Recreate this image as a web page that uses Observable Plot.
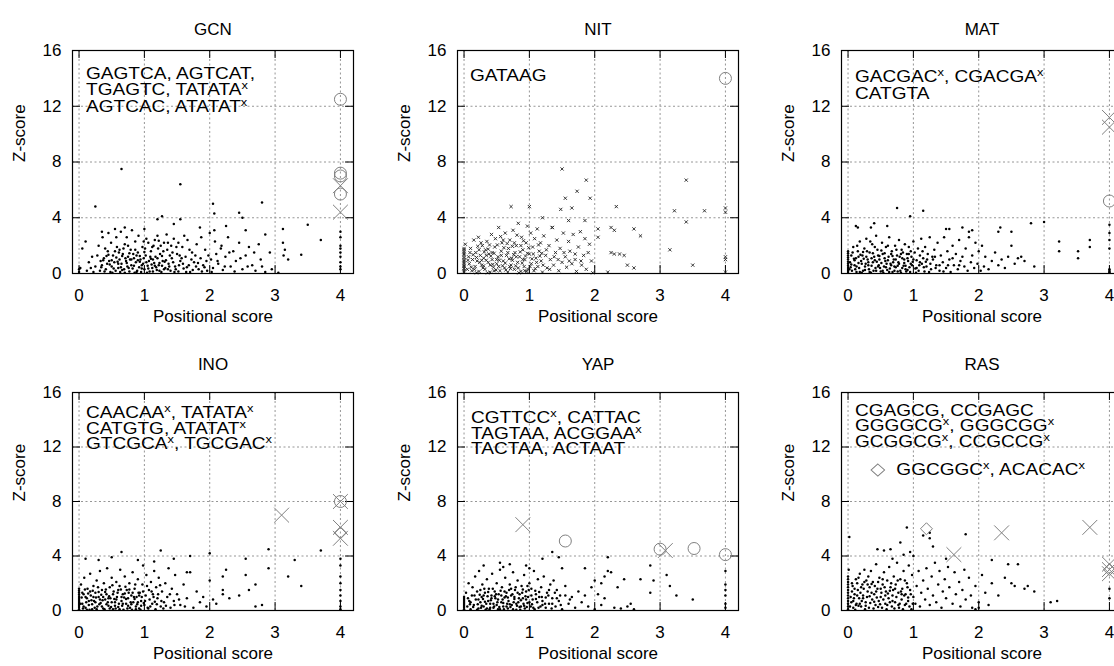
<!DOCTYPE html>
<html><head><meta charset="utf-8">
<script src="https://cdn.jsdelivr.net/npm/d3@7"></script>
<script src="https://cdn.jsdelivr.net/npm/@observablehq/plot@0.6"></script>
<style>
html,body{margin:0;padding:0;background:#fff;overflow:hidden;}
#wrap{position:relative;width:1160px;height:666px;font-family:"Liberation Sans",Arial,Helvetica,sans-serif;}
.panel{position:absolute;}
.ann{position:absolute;font-size:17px;white-space:nowrap;color:#000;transform-origin:0 0;transform:scale(1.12,1);}
.sup{font-size:11.5px;position:relative;top:-6px;}
</style></head><body><div id="wrap"></div>
<script>
// ---------- tick values ----------
const xTicks = [0, 1, 2, 3, 4];
const yTicks = [0, 4, 8, 12, 16];

// ---------- panel titles ----------
const titles = ["GCN", "NIT", "MAT", "INO", "YAP", "RAS"];

// ---------- motif labels ("^x" marks a superscript x) ----------
const gcnLabels = ["GAGTCA, AGTCAT,", "TGAGTC, TATATA^x", "AGTCAC, ATATAT^x"];
const nitLabels = ["GATAAG"];
const matLabels = ["GACGAC^x, CGACGA^x", "CATGTA"];
const inoLabels = ["CAACAA^x, TATATA^x", "CATGTG, ATATAT^x", "GTCGCA^x, TGCGAC^x"];
const yapLabels = ["CGTTCC^x, CATTAC", "TAGTAA, ACGGAA^x", "TACTAA, ACTAAT"];
const rasLabels = ["CGAGCG, CCGAGC", "GGGGCG^x, GGGCGG^x", "GCGGCG^x, CCGCCG^x"];
const rasLegend = "GGCGGC^x, ACACAC^x";

// ---------- highlighted motifs: [positional score, z-score, kind] o=circle x=cross d=diamond ----------
const gcnMarks = [[4,12.5,"o"],[4,7.2,"o"],[4,7.0,"o"],[4,6.3,"x"],[4,5.7,"o"],[4,4.4,"x"]];
const nitMarks = [[4,14.0,"o"]];
const matMarks = [[4,11.2,"x"],[4,10.5,"x"],[4,5.2,"o"]];
const inoMarks = [[4,8.0,"o"],[4,8.0,"x"],[3.1,7.0,"x"],[4,6.1,"x"],[4,5.7,"d"],[4,5.3,"x"]];
const yapMarks = [[0.9,6.3,"x"],[1.55,5.1,"o"],[3.0,4.5,"o"],[3.08,4.4,"x"],[3.52,4.55,"o"],[4.0,4.1,"o"]];
const rasMarks = [[1.2,6.0,"d"],[1.62,4.1,"x"],[2.35,5.7,"x"],[3.7,6.1,"x"],[4,3.4,"x"],[4,3.0,"d"],[4,3.0,"x"],[4,2.7,"x"]];

// ---------- all hexamers: [positional score, z-score] ----------
const gcnPts = [
[0.32,0.2],[0.35,0.6],[0.38,1.1],[0.41,0.3],[0.44,1.6],[0.46,0.9],[0.48,0.1],[0.5,0.5],[0.52,1.3],[0.54,0.8],[0.56,0.2],[0.58,1.9],[0.6,0.4],[0.62,1.0],[0.63,0.1],[0.65,0.7],[0.67,1.4],[0.69,0.3],[0.7,2.1],[0.72,0.9],[0.74,0.5],[0.75,1.2],[0.77,0.15],[0.79,1.7],[0.8,0.6],[0.82,0.35],[0.84,1.1],[0.86,2.3],[0.87,0.8],[0.89,0.2],[0.9,1.5],[0.92,0.45],[0.94,1.0],[0.95,0.1],[0.97,1.9],[0.98,0.7],[1.0,0.3],[1.02,1.3],[1.03,2.5],[1.05,0.55],[1.07,0.9],[1.08,0.15],[1.1,1.6],[1.12,0.4],[1.14,2.0],[1.15,0.75],[1.17,1.2],[1.19,0.25],[1.2,2.7],[1.22,0.6],[1.24,1.4],[1.26,0.1],[1.28,0.9],[1.3,2.2],[1.32,0.4],[1.35,1.7],[1.37,0.7],[1.4,0.2],[1.42,1.1],[1.45,2.5],[1.47,0.5],[1.5,1.4],[1.52,0.15],[1.55,0.9],[1.58,1.9],[1.6,0.35],[1.63,1.2],[1.66,2.4],[1.68,0.6],[1.7,0.1],[1.73,1.5],[1.76,0.8],[1.8,2.1],[1.83,0.3],[1.86,1.1],[1.9,0.6],[1.93,1.7],[1.96,0.2],[2.0,2.9],[2.02,1.0],[2.05,0.4],[2.08,2.3],[2.1,1.4],[2.13,0.7],[2.17,1.8],[2.2,0.25],[2.24,1.2],[2.28,2.6],[2.32,0.5],[2.36,1.6],[2.4,0.9],[2.45,2.2],[2.5,0.3],[2.55,1.3],[2.6,1.9],[2.65,0.6],[2.7,0.2],[2.78,1.0],[2.85,0.1],[2.92,1.5],
[0.25,0.5],[0.28,1.3],[0.3,2.0],[0.33,0.9],[0.36,2.6],[0.4,1.8],[0.43,0.7],[0.45,2.9],[0.49,2.2],[0.51,0.05],[0.55,1.6],[0.57,2.6],[0.59,0.85],[0.61,1.5],[0.64,3.0],[0.66,0.25],[0.68,1.8],[0.71,1.1],[0.73,2.6],[0.76,0.4],[0.78,1.0],[0.81,3.1],[0.83,1.4],[0.85,0.05],[0.88,1.3],[0.91,2.7],[0.93,0.85],[0.96,0.35],[0.99,1.1],[1.01,1.8],[1.04,0.05],[1.06,2.2],[1.09,1.2],[1.11,0.65],[1.13,1.0],[1.16,2.4],[1.18,0.45],[1.21,1.8],[1.23,0.2],[1.25,2.0],[1.27,0.55],[1.29,1.6],[1.31,0.85],[1.34,2.8],[1.36,0.3],[1.39,1.3],[1.41,2.0],[1.44,0.8],[1.46,0.1],[1.49,1.9],[1.53,0.6],[1.57,1.1],[1.61,2.7],[1.65,0.45],[1.69,1.7],[1.74,0.25],[1.78,1.3],[1.82,0.75],[1.87,2.6],[1.92,0.45],[1.98,1.3],[2.03,0.1],[2.07,3.1],[2.12,0.9],[2.18,2.0],[2.23,0.5],[2.3,1.5],[2.38,0.15],[2.47,1.1],[2.58,0.5],[2.68,1.5],[2.8,0.5],[2.95,0.3],[3.05,0.05],
[0.34,0.45],[0.37,0.95],[0.39,0.15],[0.42,1.25],[0.47,0.65],[0.53,0.35],[0.57,1.15],[0.6,0.7],[0.64,0.45],[0.66,1.25],[0.7,0.05],[0.73,0.75],[0.77,1.45],[0.8,1.0],[0.84,0.55],[0.88,0.1],[0.9,0.95],[0.93,1.25],[0.96,0.6],[1.0,1.55],[1.03,0.8],[1.06,0.35],[1.1,1.05],[1.13,0.15],[1.16,0.55],[1.2,1.1],[1.23,0.75],[1.27,1.25],[1.3,0.3],[1.33,0.95],[1.38,0.5],[1.43,1.5],[1.48,0.3],[1.54,1.3],[1.59,0.7],[1.64,0.1],[1.72,1.0],[1.79,0.5],[1.88,0.15],[1.95,0.9],[0.45,1.35],[0.5,0.95],[0.62,1.7],[0.75,2.0],[0.86,1.7],[0.99,2.3],[1.12,1.9],[1.22,2.35],[1.36,2.2],[1.52,2.2],
[0.0,0.1],[0.0,0.3],[0.02,0.4],[0.05,1.8],[0.1,2.3],[0.12,0.2],[0.15,0.8],[0.18,0.4],[0.2,1.2],[0.22,0.1],
[0.65,7.5],[1.55,6.4],[0.25,4.8],[2.05,5.0],[2.07,4.3],[2.8,5.1],[2.45,4.35],[2.5,4.0],[1.27,4.1],[1.2,3.9],[1.55,3.9],[1.45,3.55],[3.5,3.5],[3.12,3.2],[3.7,2.4],[3.12,2.2],[3.15,1.7],[3.13,1.3],[3.2,1.0],[3.4,1.35],[2.85,2.8],[2.75,2.1],[2.55,3.1],[0.55,3.2],[0.7,3.3],[0.35,3.0],[1.0,3.2],[1.85,3.3],[2.25,3.4],
[4,3.0],[4,2.6],[4,2.0],[4,1.8],[4,1.5],[4,1.2],[4,0.8],[4,0.5],[4,0.3]
];
const nitPts = [
[0,0.1],[0,0.2],[0,0.35],[0,0.5],[0,0.6],[0,0.75],[0,0.9],[0,1.0],[0,1.15],[0,1.3],[0,1.4],[0,1.55],[0,1.7],[0,1.8],[0.02,2.1],
[0.05,0.3],[0.07,1.2],[0.08,0.7],[0.1,1.8],[0.12,0.2],[0.13,1.0],[0.15,2.4],[0.17,0.5],[0.18,1.5],[0.2,0.9],[0.22,2.6],[0.23,0.15],[0.25,1.3],[0.27,0.6],[0.28,2.0],[0.3,1.1],[0.32,0.3],[0.33,1.7],[0.35,2.3],[0.37,0.8],[0.38,1.4],[0.4,0.1],[0.42,2.8],[0.43,1.0],[0.45,0.45],[0.47,1.9],[0.48,2.5],[0.5,0.7],[0.52,1.2],[0.53,3.3],[0.55,0.2],[0.57,1.6],[0.58,2.2],[0.6,0.9],[0.62,0.4],[0.63,2.9],[0.65,1.3],[0.67,0.1],[0.68,1.8],[0.7,2.4],[0.72,0.6],[0.73,1.1],[0.75,3.1],[0.77,0.3],[0.78,1.5],[0.8,2.0],[0.82,0.8],[0.83,3.6],[0.85,1.2],[0.87,0.15],[0.88,2.6],[0.9,1.7],[0.92,0.5],[0.93,1.0],[0.95,2.2],[0.97,3.4],[0.98,0.3],[1.0,1.4],[1.02,2.9],[1.03,0.7],[1.05,1.9],[1.07,0.2],[1.08,2.5],[1.1,1.1],[1.12,3.2],[1.13,0.5],[1.15,1.6],[1.17,2.2],[1.18,0.9],[1.2,0.1],[1.22,2.7],[1.25,1.3],[1.27,0.4],[1.3,2.0],[1.32,1.0],[1.35,3.3],[1.37,0.6],[1.4,1.5],[1.42,2.4],[1.45,0.2],[1.47,1.8],[1.5,0.8],[1.52,2.9],[1.55,1.2],[1.57,0.45],[1.6,2.3],[1.62,1.6],[1.65,0.7],[1.67,2.8],[1.7,1.0],[1.72,0.15],[1.75,1.9],[1.78,3.0],[1.8,0.6],[1.83,1.3],[1.85,2.5],[1.87,0.3],[1.9,1.5],[1.92,2.1],[1.95,0.9],[1.97,0.05],
[0.11,0.45],[0.14,1.35],[0.19,0.05],[0.21,1.95],[0.24,0.8],[0.26,2.2],[0.29,0.4],[0.31,1.55],[0.34,0.95],[0.36,0.05],[0.39,2.05],[0.41,1.25],[0.44,0.65],[0.46,1.45],[0.49,0.25],[0.51,2.05],[0.54,0.95],[0.56,2.65],[0.59,0.55],[0.61,1.85],[0.64,0.25],[0.66,2.15],[0.69,1.05],[0.71,0.35],[0.74,1.95],[0.76,1.35],[0.79,0.55],[0.81,2.75],[0.84,0.05],[0.86,1.55],[0.89,0.75],[0.91,2.35],[0.94,1.25],[0.96,0.15],[0.99,1.85],[1.04,1.05],[1.09,0.35],[1.14,2.05],[1.19,1.45],
[0.06,0.95],[0.09,1.5],[0.16,0.3],[0.19,1.15],[0.23,1.7],[0.27,0.95],[0.3,0.55],[0.34,1.3],[0.37,1.75],[0.4,0.6],[0.43,1.5],[0.46,0.2],[0.5,1.0],[0.53,0.5],[0.57,1.3],[0.6,2.4],[0.63,0.75],[0.67,1.5],[0.7,0.5],[0.74,0.95],[0.77,2.2],[0.8,1.2],[0.83,0.4],[0.87,2.0],[0.9,1.0],[0.93,0.2],[0.97,1.45],[1.01,0.5],[1.06,1.4],[1.11,0.8],[1.16,1.25],[1.21,0.6],[1.26,1.7],[1.31,0.3],[1.38,1.2],[1.44,1.0],[1.53,1.5],[1.61,0.9],[1.7,1.4],[1.79,0.9],
[1.5,7.5],[1.87,6.7],[1.73,5.9],[1.55,5.4],[1.93,5.4],[0.72,4.8],[1.0,4.8],[1.48,4.6],[1.65,4.7],[2.33,4.8],[3.4,6.7],[3.22,4.5],[3.68,4.5],[3.4,3.7],[1.6,3.8],[1.85,3.8],[2.05,3.2],[2.25,3.3],[2.3,3.1],[2.6,3.2],[2.7,2.7],[2.05,2.6],[2.25,1.5],[2.3,1.4],[2.38,1.4],[2.45,1.3],[2.5,0.6],[2.6,0.4],[3.15,1.7],[3.5,0.6],[2.2,0.1],[1.2,4.0],[1.35,3.3],
[4,4.7],[4,4.4],[4,1.2],[4,1.0],[4,0.1]
];
const matPts = [
[0,0.1],[0,0.25],[0,0.4],[0,0.55],[0,0.7],[0,0.85],[0,1.0],[0,1.15],[0,1.3],[0,1.45],[0,1.6],
[0.03,0.8],[0.05,1.3],[0.06,0.2],[0.08,1.9],[0.1,0.6],[0.12,1.1],[0.13,0.1],[0.15,1.6],[0.17,0.4],[0.18,2.3],[0.2,0.9],[0.22,1.3],[0.23,0.2],[0.25,1.8],[0.27,0.7],[0.28,2.5],[0.3,1.0],[0.32,0.3],[0.33,1.5],[0.35,0.05],[0.37,2.1],[0.38,0.8],[0.4,1.2],[0.42,0.4],[0.43,2.7],[0.45,1.7],[0.47,0.6],[0.48,1.0],[0.5,0.15],[0.52,2.2],[0.53,1.4],[0.55,0.5],[0.57,0.9],[0.58,1.9],[0.6,0.25],[0.62,1.2],[0.63,2.6],[0.65,0.7],[0.67,1.6],[0.68,0.1],[0.7,1.0],[0.72,2.0],[0.73,0.45],[0.75,1.3],[0.77,0.8],[0.78,2.4],[0.8,0.2],[0.82,1.7],[0.83,1.1],[0.85,0.55],[0.87,2.1],[0.88,0.3],[0.9,1.4],[0.92,0.9],[0.93,1.9],[0.95,0.1],[0.97,1.2],[0.98,0.6],[1.0,2.3],[1.02,1.5],[1.03,0.35],[1.05,0.95],[1.07,1.8],[1.08,0.2],[1.1,1.3],[1.12,2.5],[1.13,0.7],[1.15,1.1],[1.17,0.15],[1.18,1.9],[1.2,0.5],[1.22,1.4],[1.25,2.6],[1.27,0.3],[1.3,1.0],[1.32,1.7],[1.35,0.6],[1.37,2.2],[1.4,0.2],[1.42,1.3],[1.45,0.8],[1.47,2.6],[1.5,0.4],[1.52,1.6],[1.55,1.0],[1.57,0.1],[1.6,2.0],[1.62,0.6],[1.65,1.4],[1.68,0.3],[1.7,2.4],[1.72,0.9],[1.75,1.2],[1.78,0.5],[1.8,1.8],[1.83,0.2],[1.85,2.6],[1.88,0.8],[1.9,1.3],[1.93,0.4],[1.95,2.2],[1.98,0.7],[2.0,1.6],[2.03,0.2],[2.05,2.0],[2.08,0.5],[2.1,1.2],[2.15,0.3],[2.2,0.9],[2.25,1.5],[2.3,0.6],[2.35,1.0],[2.4,0.4],[2.45,1.2],[2.5,2.0],[2.55,0.7],[2.6,1.1],[2.65,1.2],[2.7,0.9],[2.85,0.5],
[0.04,0.45],[0.09,1.05],[0.11,0.3],[0.14,2.0],[0.16,0.75],[0.19,1.35],[0.21,0.05],[0.24,1.05],[0.26,0.5],[0.29,1.6],[0.31,0.6],[0.34,2.3],[0.36,1.1],[0.39,0.2],[0.41,1.9],[0.44,0.85],[0.46,1.3],[0.49,0.4],[0.51,1.65],[0.54,0.05],[0.56,1.1],[0.59,0.7],[0.61,2.0],[0.64,0.35],[0.66,1.4],[0.69,0.8],[0.71,0.2],[0.74,1.7],[0.76,0.55],[0.79,1.2],[0.81,0.05],[0.84,1.5],[0.86,0.75],[0.89,0.15],[0.91,1.1],[0.94,0.45],[0.96,1.6],[0.99,0.85],[1.04,0.05],[1.09,0.6],[1.14,1.6],[1.19,0.85],[1.24,0.1],[1.29,1.2],[1.34,0.4],
[0.02,0.3],[0.05,0.65],[0.07,1.5],[0.1,0.95],[0.13,0.5],[0.16,1.2],[0.18,0.1],[0.21,0.7],[0.23,1.55],[0.26,0.25],[0.28,1.2],[0.31,0.8],[0.33,0.1],[0.36,0.55],[0.38,1.45],[0.41,0.95],[0.43,0.2],[0.46,0.5],[0.48,1.25],[0.51,0.75],[0.53,0.2],[0.56,1.45],[0.58,0.45],[0.61,0.95],[0.63,0.1],[0.66,0.6],[0.68,1.25],[0.71,0.5],[0.73,1.0],[0.76,0.15],[0.78,0.7],[0.81,1.4],[0.83,0.4],[0.86,1.0],[0.88,0.55],[0.91,0.25],[0.93,1.4],[0.96,0.7],[1.0,1.0],[1.05,0.4],[1.1,0.8],[1.16,0.45],[1.21,1.0],[1.26,0.7],[1.33,1.2],[1.4,0.6],[1.46,0.15],[1.53,0.6],[1.6,1.1],[1.7,0.6],
[0.12,3.4],[0.15,3.3],[0.35,3.3],[0.4,3.6],[0.6,3.4],[0.75,4.7],[0.95,4.1],[1.15,4.5],[1.5,3.2],[1.55,3.2],[1.75,3.3],[1.85,3.0],[1.9,3.1],[2.33,3.3],[2.3,3.0],[2.5,3.0],[2.8,3.6],[3.0,3.7],[3.23,2.3],[3.23,1.6],[3.52,1.6],[3.52,1.1],[3.7,2.4],[3.7,1.9],
[4,3.5],[4,2.9],[4,2.4],[4,1.8],[4,0.3],[4,0.2],[4,0.1],[4,0.05]
];
const inoPts = [
[0,0.1],[0,0.25],[0,0.4],[0,0.55],[0,0.7],[0,0.85],[0,1.0],[0,1.15],[0,1.3],[0,1.45],[0,1.6],
[0.03,1.9],[0.05,0.5],[0.07,1.2],[0.08,2.4],[0.1,0.2],[0.12,0.9],[0.13,1.6],[0.15,0.4],[0.17,2.7],[0.18,1.1],[0.2,0.1],[0.22,1.8],[0.23,0.7],[0.25,1.3],[0.27,2.2],[0.28,0.3],[0.3,1.0],[0.32,2.9],[0.33,0.55],[0.35,1.5],[0.37,0.15],[0.38,2.0],[0.4,0.8],[0.42,1.2],[0.43,3.1],[0.45,0.35],[0.47,1.7],[0.48,0.9],[0.5,2.4],[0.52,0.1],[0.53,1.4],[0.55,0.6],[0.57,2.1],[0.58,1.0],[0.6,0.25],[0.62,1.8],[0.63,3.0],[0.65,0.7],[0.67,1.2],[0.68,0.05],[0.7,2.5],[0.72,0.5],[0.73,1.5],[0.75,0.9],[0.77,2.0],[0.78,0.2],[0.8,1.1],[0.82,2.8],[0.83,0.6],[0.85,1.6],[0.87,0.3],[0.88,1.0],[0.9,2.3],[0.92,0.15],[0.93,1.3],[0.95,0.7],[0.97,1.9],[0.98,3.3],[1.0,0.4],[1.02,1.1],[1.03,2.6],[1.05,0.2],[1.07,1.5],[1.08,0.8],[1.1,2.1],[1.12,0.5],[1.13,1.2],[1.15,2.9],[1.17,0.1],[1.18,1.7],[1.2,0.9],[1.22,2.4],[1.25,0.3],[1.27,1.4],[1.3,0.6],[1.32,2.0],[1.35,1.0],[1.37,3.1],[1.4,0.2],[1.42,1.6],[1.45,0.7],[1.47,2.6],[1.5,1.2],[1.55,0.4],[1.6,1.9],[1.65,0.9],[1.7,2.8],[1.75,0.2],[1.8,1.4],[1.85,0.6],[1.9,1.0],[1.95,0.3],[2.0,2.2],[2.05,0.8],[2.1,0.5],[2.2,1.2],
[0.04,0.95],[0.06,0.15],[0.09,1.55],[0.11,0.6],[0.14,1.25],[0.16,0.05],[0.19,0.75],[0.21,1.45],[0.24,0.2],[0.26,0.95],[0.29,1.7],[0.31,0.45],[0.34,1.15],[0.36,0.75],[0.39,0.1],[0.41,1.55],[0.44,0.6],[0.46,1.05],[0.49,0.25],[0.51,1.85],[0.54,0.85],[0.56,0.15],[0.59,1.3],[0.61,0.5],[0.64,1.55],[0.66,0.35],[0.69,0.95],[0.71,1.75],[0.74,0.15],[0.76,1.3],[0.79,0.6],[0.81,0.05],[0.84,1.0],[0.86,1.9],[0.89,0.45],[0.91,1.3],[0.94,0.05],[0.96,1.0],[0.99,0.55],[1.04,1.8],[1.09,0.3],[1.14,1.0],[1.19,0.45],[1.24,1.85],[1.29,0.15],
[0.02,0.5],[0.05,1.3],[0.07,0.3],[0.1,1.0],[0.12,0.05],[0.15,0.7],[0.17,1.4],[0.2,0.45],[0.22,1.0],[0.25,0.6],[0.27,0.1],[0.3,1.35],[0.32,0.8],[0.35,0.3],[0.37,1.0],[0.4,1.35],[0.42,0.45],[0.45,0.9],[0.47,0.15],[0.5,0.6],[0.52,1.2],[0.55,0.35],[0.57,0.8],[0.6,1.5],[0.62,0.1],[0.65,1.0],[0.67,0.5],[0.7,1.25],[0.72,0.85],[0.75,0.35],[0.77,1.55],[0.8,0.45],[0.82,1.3],[0.85,0.85],[0.87,0.1],[0.9,0.6],[0.92,1.1],[0.95,0.35],[0.98,1.4],[1.01,0.7],[1.06,0.15],[1.11,1.4],[1.16,0.65],[1.21,1.2],[1.26,0.7],[1.33,0.35],[1.39,1.2],[1.46,0.4],[1.53,0.8],[1.62,0.3],
[0.1,3.8],[0.3,3.7],[0.5,3.9],[0.65,4.3],[0.9,3.7],[1.15,3.6],[1.25,4.4],[1.45,3.8],[1.7,4.0],[2.0,4.2],[1.65,2.8],[2.25,3.0],[2.2,2.5],[2.55,3.8],[2.55,2.6],[2.2,1.5],[2.3,0.9],[2.45,1.1],[2.6,1.5],[2.7,1.9],[2.7,0.3],[2.8,0.4],[2.9,4.5],[2.9,3.1],[3.2,2.5],[3.3,3.7],[3.4,1.8],[3.7,4.4],
[4,3.8],[4,3.3],[4,2.5],[4,2.0],[4,1.5],[4,1.1],[4,0.7],[4,0.3],[4,0.1]
];
const yapPts = [
[0,0.1],[0,0.25],[0,0.4],[0,0.55],[0,0.7],[0,0.85],[0,1.0],
[0.03,1.3],[0.05,0.3],[0.07,2.0],[0.08,0.7],[0.1,0.1],[0.12,1.1],[0.13,1.7],[0.15,0.4],[0.17,2.5],[0.18,0.8],[0.2,1.4],[0.22,0.15],[0.23,2.9],[0.25,0.6],[0.27,1.0],[0.28,1.9],[0.3,0.3],[0.32,1.3],[0.33,0.05],[0.35,2.3],[0.37,0.7],[0.38,1.6],[0.4,0.2],[0.42,1.1],[0.43,2.7],[0.45,0.5],[0.47,1.4],[0.48,0.9],[0.5,2.0],[0.52,0.1],[0.53,1.2],[0.55,3.0],[0.57,0.6],[0.58,1.7],[0.6,0.3],[0.62,0.95],[0.63,2.4],[0.65,1.3],[0.67,0.15],[0.68,0.7],[0.7,1.9],[0.72,1.1],[0.73,0.4],[0.75,2.8],[0.77,0.85],[0.78,1.5],[0.8,0.05],[0.82,2.2],[0.83,0.6],[0.85,1.2],[0.87,0.3],[0.88,1.8],[0.9,0.9],[0.92,2.6],[0.93,0.15],[0.95,1.4],[0.97,0.55],[0.98,1.0],[1.0,2.0],[1.02,0.3],[1.03,1.6],[1.05,0.8],[1.07,2.9],[1.08,0.1],[1.1,1.2],[1.12,0.6],[1.13,2.3],[1.15,1.0],[1.17,0.3],[1.18,1.7],[1.2,0.7],[1.22,2.5],[1.25,0.2],[1.27,1.3],[1.3,0.5],[1.32,1.9],[1.35,0.9],[1.37,2.2],[1.4,0.3],[1.42,1.5],[1.45,0.7],[1.47,1.1],[1.5,0.1],[1.55,1.8],[1.6,0.5],[1.65,1.0],[1.7,0.2],[1.75,1.4],[1.8,0.6],[1.85,1.1],[1.9,0.3],[1.95,1.7],[2.0,0.1],[2.05,1.2],[2.1,0.4],[2.15,0.9],
[0.21,0.45],[0.24,1.15],[0.26,0.2],[0.29,0.85],[0.31,1.6],[0.34,0.5],[0.36,1.05],[0.39,0.1],[0.41,0.75],[0.44,1.6],[0.46,0.3],[0.49,1.2],[0.51,0.6],[0.54,0.25],[0.56,1.45],[0.59,0.8],[0.61,0.1],[0.64,1.05],[0.66,0.5],[0.69,1.5],[0.71,0.25],[0.74,1.2],[0.76,0.6],[0.79,1.7],[0.81,0.35],[0.84,0.9],[0.86,0.05],[0.89,1.3],[0.91,0.5],[0.94,1.05],[0.96,0.25],[0.99,1.5],[1.04,0.45],[1.09,1.45],[1.14,0.2],[1.19,1.0],[1.24,0.5],[1.29,1.1],[1.34,0.15],[1.39,1.3],
[0.2,0.05],[0.22,0.8],[0.25,1.5],[0.27,0.35],[0.3,1.1],[0.32,0.65],[0.35,0.15],[0.37,1.35],[0.4,0.5],[0.42,0.9],[0.45,0.2],[0.47,1.05],[0.5,0.4],[0.52,0.8],[0.55,0.1],[0.57,1.1],[0.6,0.55],[0.62,1.4],[0.65,0.3],[0.67,0.95],[0.7,0.45],[0.72,1.6],[0.75,0.1],[0.77,1.0],[0.8,0.5],[0.82,1.3],[0.85,0.25],[0.87,0.75],[0.9,1.55],[0.92,0.35],[0.95,0.8],[0.97,1.8],[1.0,0.6],[1.03,1.1],[1.06,0.2],[1.1,0.85],[1.15,1.35],[1.2,0.4],[1.25,0.95],[1.3,1.5],[1.35,0.5],[1.42,0.9],[1.48,0.4],[1.55,1.1],[1.62,0.8],[0.1,0.6],[0.14,0.25],[0.16,1.1],[0.06,0.9],[0.09,0.45],
[0.3,3.3],[0.55,3.5],[0.6,3.2],[0.7,3.4],[0.95,3.3],[1.0,3.1],[1.2,3.8],[1.35,4.3],[1.45,3.9],[1.5,3.1],[1.85,3.1],[2.0,2.2],[2.1,2.0],[2.15,2.5],[2.2,3.9],[2.2,2.9],[2.25,2.8],[2.35,1.7],[2.45,2.3],[2.5,0.3],[2.55,0.5],[2.7,2.3],[2.85,3.3],[2.9,2.2],[2.85,1.3],[3.1,2.6],[3.15,1.8],[3.25,1.1],[3.5,0.8],[2.3,0.2],[2.4,0.15],[2.6,0.1],
[4,2.9],[4,1.9],[4,1.5],[4,1.1],[4,0.5],[4,0.2]
];
const rasPts = [
[0,0.1],[0,0.3],[0,0.5],[0,0.7],[0,0.9],[0,1.1],[0,1.3],[0,1.5],[0,1.7],[0,1.9],[0,2.1],[0,2.3],[0,2.5],[0.01,3.0],[0.02,5.4],
[0.05,0.6],[0.07,1.8],[0.08,0.2],[0.1,1.2],[0.12,2.3],[0.13,0.5],[0.15,1.5],[0.17,0.9],[0.18,2.7],[0.2,0.3],[0.22,1.9],[0.23,1.1],[0.25,3.0],[0.27,0.6],[0.28,2.2],[0.3,1.4],[0.32,0.2],[0.33,1.7],[0.35,2.9],[0.37,0.8],[0.38,2.1],[0.4,1.2],[0.42,0.4],[0.43,3.4],[0.45,1.6],[0.47,0.7],[0.48,2.4],[0.5,1.0],[0.52,0.2],[0.53,1.9],[0.55,2.8],[0.57,0.5],[0.58,1.4],[0.6,2.2],[0.62,0.9],[0.63,3.2],[0.65,1.7],[0.67,0.3],[0.68,1.1],[0.7,2.5],[0.72,0.6],[0.73,1.9],[0.75,3.5],[0.77,1.3],[0.78,0.2],[0.8,2.3],[0.82,0.8],[0.83,1.6],[0.85,2.9],[0.87,0.4],[0.88,1.2],[0.9,2.0],[0.92,0.7],[0.93,3.3],[0.95,1.5],[0.97,0.1],[0.98,2.6],[1.0,1.0],[1.03,0.5],[1.05,1.8],[1.08,2.9],[1.1,0.3],[1.12,1.3],[1.15,2.2],[1.18,0.8],[1.2,3.1],[1.22,1.6],[1.25,0.4],[1.28,2.5],[1.3,1.1],[1.33,3.5],[1.35,0.6],[1.38,1.9],[1.4,2.9],[1.43,0.2],[1.45,1.4],[1.48,2.3],[1.5,0.9],[1.53,3.2],[1.55,1.7],[1.6,0.5],[1.63,2.8],[1.65,1.2],[1.7,2.1],[1.72,0.3],[1.75,1.5],[1.78,3.0],[1.8,0.8],[1.85,2.4],[1.88,1.1],[1.9,0.2],[1.95,1.8],[2.0,0.6],[2.05,2.6],[2.1,1.3],[2.15,0.4],[2.2,2.0],
[0.06,1.4],[0.09,0.9],[0.11,0.05],[0.14,2.0],[0.16,0.35],[0.19,1.3],[0.21,0.7],[0.24,1.6],[0.26,0.1],[0.29,1.0],[0.31,2.5],[0.34,0.55],[0.36,1.3],[0.39,0.15],[0.41,1.8],[0.44,0.95],[0.46,2.1],[0.49,0.45],[0.51,1.3],[0.54,0.8],[0.56,1.7],[0.59,0.1],[0.61,1.25],[0.64,0.6],[0.66,2.0],[0.69,1.5],[0.71,0.15],[0.74,1.0],[0.76,2.2],[0.79,0.5],[0.81,1.4],[0.84,0.1],[0.86,1.1],[0.89,0.5],[0.91,1.7],[0.94,0.3],[0.96,1.2],[0.99,0.5],
[0.03,0.3],[0.04,1.0],[0.06,2.0],[0.08,0.7],[0.1,1.6],[0.12,0.4],[0.14,1.1],[0.16,2.4],[0.18,0.5],[0.2,1.7],[0.23,0.9],[0.25,2.1],[0.27,0.35],[0.3,1.9],[0.33,1.05],[0.36,1.95],[0.4,0.65],[0.43,1.4],[0.46,0.25],[0.5,1.6],[0.53,2.3],[0.57,1.1],[0.6,0.4],[0.64,1.45],[0.68,0.7],[0.72,1.6],[0.77,0.4],[0.82,1.2],[0.87,2.2],[0.92,0.95],
[0.45,4.5],[0.55,4.4],[0.65,4.5],[0.68,3.8],[0.8,5.0],[0.85,4.1],[0.95,4.3],[0.9,6.1],[1.0,4.0],[1.15,5.5],[1.25,5.7],[1.25,5.3],[1.3,4.7],[1.5,3.8],[1.8,5.6],[2.2,3.7],[2.45,3.4],[2.6,3.4],[2.4,2.4],[2.5,2.0],[2.55,1.8],[2.7,1.6],[2.75,1.8],[2.85,1.4],[2.3,1.1],[3.1,0.6],[3.2,0.7],[1.95,0.1],[2.0,0.2],
[4,1.6],[4,0.9]
];

// ---------- layout ----------
const colLeft = [0, 385, 769];
const rowTop = [0, 330];
const rowGeom = [
  {mt: 50, fh: 223, mb: 57, titleDy: -28},
  {mt: 62, fh: 218, mb: 56, titleDy: -34.5}
];
const annGeom = [
  {left: 86, top: 66, lh: 16},
  {left: 470, top: 68, lh: 16},
  {left: 855, top: 69, lh: 16},
  {left: 86, top: 406, lh: 13.5},
  {left: 471, top: 411, lh: 13.7},
  {left: 855, top: 404, lh: 14.8}
];
const FONT = '"Liberation Sans", Arial, Helvetica, sans-serif';
const GRAY = "#808080";
const wrap = document.getElementById("wrap");

function labelHTML(s) {
  return s.replace(/\^x/g, '<span class="sup">x</span>');
}

function panel(i, pts, marks, labels) {
  const row = Math.floor(i / 3), col = i % 3;
  const g = rowGeom[row];
  const H = g.mt + g.fh + g.mb;
  const W = 380, ml = 72, mr = 27;
  const fw = W - ml - mr;
  const xd = [-0.1, 4.2], yd = [0, 16];
  const tkY = 8 * (yd[1] - yd[0]) / g.fh;
  const tkX = 8 * (xd[1] - xd[0]) / fw;
  const data = pts.map(([x, y]) => ({x, y}));
  const mk = marks.map(([x, y, t]) => ({x, y, t}));
  const grid = {stroke: "#8a8a8a", strokeDasharray: "2,2.5", strokeWidth: 0.9};
  const isNit = titles[i] === "NIT";
  const dotMark = isNit
    ? Plot.dot(data, {x: "x", y: "y", symbol: "times", r: 1.6, stroke: "#222", strokeWidth: 0.9})
    : Plot.dot(data, {x: "x", y: "y", r: 1.25, fill: "#000", stroke: "none"});
  const svg = Plot.plot({
    width: W, height: H,
    marginLeft: ml, marginRight: mr, marginTop: g.mt, marginBottom: g.mb,
    style: {fontFamily: FONT, fontSize: "17px", background: "white", color: "black", overflow: "visible"},
    x: {domain: xd},
    y: {domain: yd},
    marks: [
      Plot.ruleX(xTicks, grid),
      Plot.ruleY(yTicks.slice(1, -1), grid),
      Plot.ruleX(xTicks, {y1: yd[0], y2: yd[0] + tkY, stroke: "black"}),
      Plot.ruleX(xTicks, {y1: yd[1] - tkY, y2: yd[1], stroke: "black"}),
      Plot.ruleY(yTicks, {x1: xd[0], x2: xd[0] + tkX, stroke: "black"}),
      Plot.ruleY(yTicks, {x1: xd[1] - tkX, x2: xd[1], stroke: "black"}),
      dotMark,
      Plot.dot(mk.filter(d => d.t === "o"), {x: "x", y: "y", r: 6, stroke: GRAY, fill: "none", strokeWidth: 1}),
      Plot.dot(mk.filter(d => d.t === "x"), {x: "x", y: "y", symbol: "times", r: 6.8, stroke: GRAY, strokeWidth: 1}),
      Plot.dot(mk.filter(d => d.t === "d"), {x: "x", y: "y", symbol: "diamond2", r: 5.4, stroke: GRAY, fill: "none", strokeWidth: 1}),
      Plot.frame({stroke: "black", strokeWidth: 1.2}),
      Plot.axisX({ticks: xTicks, tickFormat: d => String(d), tickSize: 0, tickPadding: 15, label: null}),
      Plot.axisY({ticks: yTicks, tickFormat: d => String(d), tickSize: 0, tickPadding: 11, label: null}),
      Plot.text([titles[i]], {text: d => d, frameAnchor: "top", dy: g.titleDy, fontSize: 17}),
      Plot.text(["Positional score"], {text: d => d, frameAnchor: "bottom", dy: 48, fontSize: 17}),
      Plot.text(["Z-score"], {text: d => d, frameAnchor: "left", dx: -53, rotate: -90, fontSize: 17})
    ]
  });
  const holder = document.createElement("div");
  holder.className = "panel";
  holder.style.left = colLeft[col] + "px";
  holder.style.top = rowTop[row] + "px";
  holder.appendChild(svg);
  wrap.appendChild(holder);

  const a = annGeom[i];
  const div = document.createElement("div");
  div.className = "ann";
  div.style.left = a.left + "px";
  div.style.top = a.top + "px";
  div.style.lineHeight = a.lh + "px";
  div.innerHTML = labels.map(labelHTML).join("<br>");
  wrap.appendChild(div);
}

panel(0, gcnPts, gcnMarks, gcnLabels);
panel(1, nitPts, nitMarks, nitLabels);
panel(2, matPts, matMarks, matLabels);
panel(3, inoPts, inoMarks, inoLabels);
panel(4, yapPts, yapMarks, yapLabels);
panel(5, rasPts, rasMarks, rasLabels);

// RAS legend line with its diamond symbol
const leg = document.createElement("div");
leg.className = "ann";
leg.style.left = "870px";
leg.style.top = "462px";
leg.style.lineHeight = "16px";
leg.innerHTML = '<svg width="14" height="14" style="vertical-align:-2px;margin-right:9.5px"><path d="M7,1L13,7L7,13L1,7Z" fill="none" stroke="' + GRAY + '" stroke-width="1"/></svg>' + labelHTML(rasLegend);
wrap.appendChild(leg);
</script></body></html>
